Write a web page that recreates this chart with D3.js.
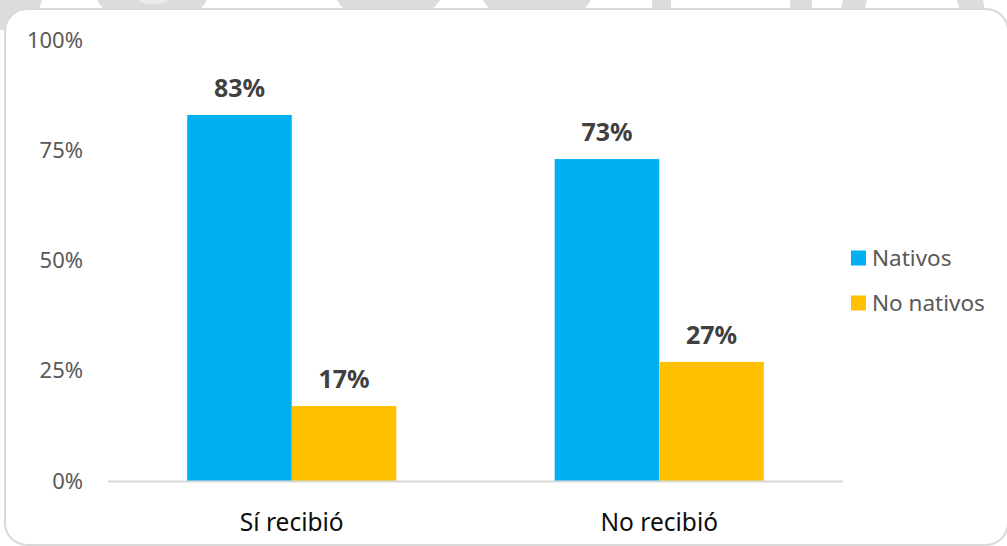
<!DOCTYPE html>
<html>
<head>
<meta charset="utf-8">
<script src="https://cdn.jsdelivr.net/npm/d3@7"></script>
<style>
  html, body { margin: 0; padding: 0; background: #fff; }
  svg { display: block; font-family: "Noto Sans", "Open Sans", sans-serif; }
</style>
</head>
<body>
<svg id="chart" width="1007" height="546"></svg>
<script>
(function () {
  const categories = ['Sí recibió', 'No recibió'];
  const seriesNames = ['Nativos', 'No nativos'];
  const nativos = [83, 73];
  const noNativos = [17, 27];
  const yTicks = [0, 25, 50, 75, 100];

  const colors = ['#00B0F0', '#FFC000'];
  const plot = { left: 108, right: 843, top: 40, bottom: 481 };

  const svg = d3.select('#chart');

  // faded watermark fragments peeking above the panel
  const wm = svg.append('g').attr('fill', '#dcdcdc');
  [
    'M0,0 L42,0 L38,12 L8,30 L0,30 Z',
    'M97,0 L207,0 C200,14 180,22 152,22 C124,22 104,14 97,0 Z',
    'M337,0 L440,0 C432,14 412,20 388,20 C364,20 344,14 337,0 Z',
    'M483,0 L591,0 C584,14 562,22 537,22 C512,22 490,14 483,0 Z',
    'M652,0 L671,0 L671,20 L652,20 Z',
    'M790,0 L812,0 L812,20 L790,20 Z',
    'M843,0 L867,0 L862,20 L838,20 Z',
    'M957,0 L983,0 L987,20 L963,20 Z'
  ].forEach(d => wm.append('path').attr('d', d));
  wm.append('ellipse').attr('cx', 153).attr('cy', 0).attr('rx', 14).attr('ry', 4).attr('fill', '#ececec');

  // white panel with rounded border
  svg.append('rect')
    .attr('x', 5).attr('y', 9)
    .attr('width', 1003).attr('height', 536)
    .attr('rx', 22).attr('ry', 22)
    .attr('fill', '#fff')
    .attr('stroke', '#d9d9d9')
    .attr('stroke-width', 2);

  const y = d3.scaleLinear().domain([0, 100]).range([plot.bottom, plot.top]);

  const x0 = d3.scaleBand().domain(categories).range([plot.left, plot.right]).padding(0);
  const groupW = x0.bandwidth() * 0.569;
  const x1 = d3.scaleBand().domain(seriesNames).range([0, groupW]).padding(0);

  // y axis labels
  const yAxis = svg.append('g')
    .attr('transform', `translate(${plot.left - 25},0)`)
    .call(d3.axisLeft(y).tickValues(yTicks).tickFormat(d => d + '%').tickSize(0).tickPadding(0));
  yAxis.select('.domain').remove();
  yAxis.selectAll('text')
    .attr('fill', '#595959')
    .style('font-size', '22px')
    .style('font-family', '"Noto Sans", sans-serif');

  // bars
  const rows = categories.map((c, i) => ({ cat: c, vals: [nativos[i], noNativos[i]] }));
  const groups = svg.selectAll('g.group')
    .data(rows)
    .join('g')
    .attr('class', 'group')
    .attr('transform', d => `translate(${x0(d.cat) + (x0.bandwidth() - groupW) / 2},0)`);

  groups.selectAll('rect')
    .data(d => d.vals.map((v, j) => ({ name: seriesNames[j], v, j })))
    .join('rect')
    .attr('x', d => x1(d.name))
    .attr('y', d => y(d.v))
    .attr('width', x1.bandwidth())
    .attr('height', d => y(0) - y(d.v))
    .attr('fill', d => colors[d.j]);

  groups.selectAll('text')
    .data(d => d.vals.map((v, j) => ({ name: seriesNames[j], v, j })))
    .join('text')
    .attr('x', d => x1(d.name) + x1.bandwidth() / 2)
    .attr('y', d => y(d.v) - 18)
    .attr('text-anchor', 'middle')
    .attr('fill', '#404040')
    .style('font-size', '25px')
    .style('font-weight', 'bold')
    .text(d => d.v + '%');

  // x axis
  svg.append('line')
    .attr('x1', plot.left).attr('x2', plot.right)
    .attr('y1', y(0) + 0.5).attr('y2', y(0) + 0.5)
    .attr('stroke', '#d9d9d9').attr('stroke-width', 2);

  svg.selectAll('text.cat')
    .data(categories)
    .join('text')
    .attr('class', 'cat')
    .attr('x', d => x0(d) + x0.bandwidth() / 2)
    .attr('y', 531)
    .attr('text-anchor', 'middle')
    .attr('fill', '#0d0d0d')
    .style('font-size', '24.5px')
    .text(d => d);

  // legend
  const legend = svg.append('g');
  seriesNames.forEach((n, i) => {
    const ly = 258 + i * 45;
    legend.append('rect')
      .attr('x', 851).attr('y', ly - 7.5)
      .attr('width', 15).attr('height', 15)
      .attr('fill', colors[i]);
    legend.append('text')
      .attr('x', 872).attr('y', ly + 8)
      .attr('fill', '#595959')
      .style('font-size', '22.5px')
      .text(n);
  });
})();
</script>
</body>
</html>
